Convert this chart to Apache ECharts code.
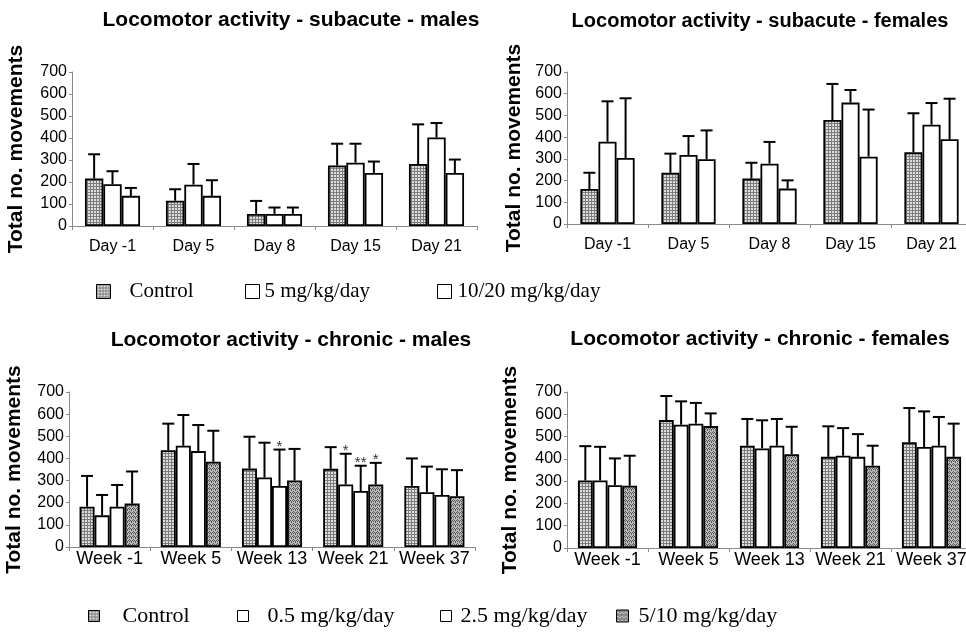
<!DOCTYPE html>
<html>
<head>
<meta charset="utf-8">
<title>Locomotor activity</title>
<script src="https://cdn.jsdelivr.net/npm/echarts@6/dist/echarts.min.js"></script>
<style>
  html, body { margin: 0; padding: 0; background: #fff; }
  #chart { width: 966px; height: 632px; }
</style>
</head>
<body>
<div id="chart"></div>
<script>
// categories
var dayLabels = ['Day -1', 'Day 5', 'Day 8', 'Day 15', 'Day 21'];
var weekLabels = ['Week -1', 'Week 5', 'Week 13', 'Week 21', 'Week 37'];

// subacute - males (mean, SD)
var subMaleCtrl = [216, 115, 55, 275, 282];
var subMaleCtrlSd = [110, 52, 59, 99, 180];
var subMale5 = [190, 188, 55, 288, 402];
var subMale5Sd = [59, 94, 29, 86, 66];
var subMale1020 = [137, 137, 55, 241, 241];
var subMale1020Sd = [36, 71, 29, 52, 61];

// subacute - females
var subFemCtrl = [161, 236, 209, 479, 330];
var subFemCtrlSd = [75, 88, 73, 166, 180];
var subFem5 = [379, 318, 278, 559, 457];
var subFem5Sd = [186, 87, 100, 58, 100];
var subFem1020 = [304, 298, 163, 310, 390];
var subFem1020Sd = [275, 133, 38, 217, 187];

// chronic - males
var chrMaleCtrl = [182, 437, 354, 353, 276];
var chrMaleCtrlSd = [139, 120, 144, 98, 124];
var chrMale05 = [143, 457, 314, 282, 247];
var chrMale05Sd = [92, 139, 157, 139, 116];
var chrMale25 = [182, 433, 276, 253, 235];
var chrMale25Sd = [98, 118, 164, 114, 116];
var chrMale510 = [196, 385, 300, 282, 229];
var chrMale510Sd = [145, 140, 143, 98, 118];
// significance marks (chronic males)
var chrMaleSig05 = ['', '', '', '*', ''];
var chrMaleSig25 = ['', '', '*', '**', ''];
var chrMaleSig510 = ['', '', '', '*', ''];

// chronic - females
var chrFemCtrl = [303, 574, 459, 409, 474];
var chrFemCtrlSd = [154, 108, 120, 137, 154];
var chrFem05 = [303, 553, 447, 414, 453];
var chrFem05Sd = [151, 105, 126, 124, 160];
var chrFem25 = [282, 558, 459, 409, 459];
var chrFem25Sd = [120, 93, 120, 102, 129];
var chrFem510 = [279, 547, 421, 369, 409];
var chrFem510Sd = [135, 57, 123, 90, 149];

var subNames = ['Control', '5 mg/kg/day', '10/20 mg/kg/day'];
var chrNames = ['Control', '0.5 mg/kg/day', '2.5 mg/kg/day', '5/10 mg/kg/day'];

// small tiled textures for the bar fills
function texture(size, bg, ink, dots) {
  var c = document.createElement('canvas');
  c.width = c.height = size;
  var g = c.getContext('2d');
  g.fillStyle = bg;
  g.fillRect(0, 0, size, size);
  g.fillStyle = ink;
  dots.forEach(function (d) { g.fillRect(d[0], d[1], 1, 1); });
  return { image: c, repeat: 'repeat' };
}
var meshFill = texture(3, '#dedede', '#7c7c7c', [[0, 0], [0, 1], [0, 2], [1, 0], [2, 0]]);
var darkFill = texture(4, '#bdbdbd', '#565656', [[0, 0], [1, 1], [2, 0], [3, 1], [1, 3], [3, 2]]);
var whiteFill = '#ffffff';

var font = 'Liberation Sans';

function errorRenderer(nBars, gapRatio, sigs) {
  return function (params, api) {
    var ci = api.value(0), si = api.value(3);
    var band = api.size([1, 0])[0];
    var groupW = band * (1 - gapRatio);
    var bw = groupW / nBars;
    var x = api.coord([ci, 0])[0] - groupW / 2 + (si + 0.5) * bw;
    var y0 = api.coord([ci, api.value(1)])[1];
    var y1 = api.coord([ci, api.value(2)])[1];
    var st = { stroke: '#000', lineWidth: 2 };
    var kids = [
      { type: 'line', shape: { x1: x, y1: y0, x2: x, y2: y1 }, style: st },
      { type: 'line', shape: { x1: x - 6, y1: y1, x2: x + 6, y2: y1 }, style: st }
    ];
    var mark = sigs && sigs[si] && sigs[si][ci];
    if (mark) {
      kids.push({ type: 'text', x: x, y: y1 + 5,
        style: { text: mark, fill: '#333', font: '15px "Liberation Sans"', align: 'center', verticalAlign: 'bottom' } });
    }
    return { type: 'group', children: kids };
  };
}

var series = [];
function addPanel(g, names, means, sds, fills, gap, sigs) {
  means.forEach(function (m, si) {
    series.push({
      name: names[si], type: 'bar', xAxisIndex: g, yAxisIndex: g, data: m,
      barGap: '0%', barCategoryGap: (gap * 100) + '%',
      itemStyle: { color: fills[si], borderColor: '#000', borderWidth: 1.8 },
      emphasis: { disabled: true }
    });
  });
  var errData = [];
  means.forEach(function (m, si) {
    m.forEach(function (v, ci) { errData.push([ci, v, v + sds[si][ci], si]); });
  });
  series.push({
    type: 'custom', xAxisIndex: g, yAxisIndex: g, data: errData,
    renderItem: errorRenderer(means.length, gap, sigs), z: 5, silent: true
  });
}

addPanel(0, subNames, [subMaleCtrl, subMale5, subMale1020], [subMaleCtrlSd, subMale5Sd, subMale1020Sd],
  [meshFill, whiteFill, whiteFill], 0.32);
addPanel(1, subNames, [subFemCtrl, subFem5, subFem1020], [subFemCtrlSd, subFem5Sd, subFem1020Sd],
  [meshFill, whiteFill, whiteFill], 0.33);
addPanel(2, chrNames, [chrMaleCtrl, chrMale05, chrMale25, chrMale510], [chrMaleCtrlSd, chrMale05Sd, chrMale25Sd, chrMale510Sd],
  [meshFill, whiteFill, whiteFill, darkFill], 0.26, [null, chrMaleSig05, chrMaleSig25, chrMaleSig510]);
addPanel(3, chrNames, [chrFemCtrl, chrFem05, chrFem25, chrFem510], [chrFemCtrlSd, chrFem05Sd, chrFem25Sd, chrFem510Sd],
  [meshFill, whiteFill, whiteFill, darkFill], 0.27);

var grids = [
  { left: 72, top: 72, width: 405, height: 154 },
  { left: 567, top: 72, width: 405, height: 152 },
  { left: 69, top: 392, width: 406, height: 155 },
  { left: 567, top: 392, width: 405, height: 156 }
];
grids.forEach(function (gr) { gr.outerBoundsMode = 'none'; gr.containLabel = false; });

var xCats = [dayLabels, dayLabels, weekLabels, weekLabels];
var xMargins = [13, 13, 3, 3];
var xSizes = [16, 16, 18, 18];
var nameGaps = [45, 42, 44, 46];

var xAxes = xCats.map(function (cats, g) {
  return {
    gridIndex: g, type: 'category', data: cats,
    axisLine: { show: true, lineStyle: { color: '#8a8a8a', width: 1 } },
    axisTick: { show: true, length: 4, lineStyle: { color: '#8a8a8a' } },
    axisLabel: { interval: 0, margin: xMargins[g], fontSize: xSizes[g], color: '#000', fontFamily: font },
    splitLine: { show: false }
  };
});
var yAxes = xCats.map(function (cats, g) {
  return {
    gridIndex: g, type: 'value', min: 0, max: 700, interval: 100,
    name: 'Total no. movements', nameLocation: 'middle', nameRotate: 90, nameGap: nameGaps[g],
    nameTextStyle: { fontFamily: font, fontWeight: 'bold', fontSize: 21, color: '#000' },
    axisLine: { show: true, lineStyle: { color: '#8a8a8a', width: 1 } },
    axisTick: { show: true, length: 3, lineStyle: { color: '#8a8a8a' } },
    axisLabel: { margin: 5, fontSize: 16, color: '#000', fontFamily: font },
    splitLine: { show: false }
  };
});

var titles = [
  { text: 'Locomotor activity - subacute - males', left: 291, top: 10, size: 21 },
  { text: 'Locomotor activity - subacute - females', left: 760, top: 11, size: 20 },
  { text: 'Locomotor activity - chronic - males', left: 291, top: 330, size: 21 },
  { text: 'Locomotor activity - chronic - females', left: 760, top: 329, size: 21 }
].map(function (t) {
  return {
    text: t.text, left: t.left, top: t.top, textAlign: 'center', padding: 0,
    textStyle: { fontFamily: font, fontWeight: 'bold', fontSize: t.size, color: '#000' }
  };
});

function legendItem(name, left, top, box, size, pad) {
  return {
    data: [name], left: left, top: top, padding: 0, icon: 'rect',
    itemWidth: box, itemHeight: box, selectedMode: false,
    itemStyle: { borderColor: '#000', borderWidth: 1 },
    textStyle: { fontFamily: 'Liberation Serif', fontSize: size, color: '#000', padding: [0, 0, 0, pad] }
  };
}
var legends = [
  legendItem('Control', 96, 281, 14, 21, 14),
  legendItem('5 mg/kg/day', 245, 281, 14, 21, 0),
  legendItem('10/20 mg/kg/day', 437, 281, 14, 21, 1),
  legendItem('Control', 88, 605, 11, 22, 18),
  legendItem('0.5 mg/kg/day', 237, 605, 11, 22, 14),
  legendItem('2.5 mg/kg/day', 440, 605, 11, 22, 4),
  legendItem('5/10 mg/kg/day', 616, 605, 12, 22, 5)
];

var myChart = echarts.init(document.getElementById('chart'));
myChart.setOption({
  backgroundColor: '#fff',
  animation: false,
  title: titles,
  legend: legends,
  grid: grids,
  xAxis: xAxes,
  yAxis: yAxes,
  series: series
});
</script>
</body>
</html>
